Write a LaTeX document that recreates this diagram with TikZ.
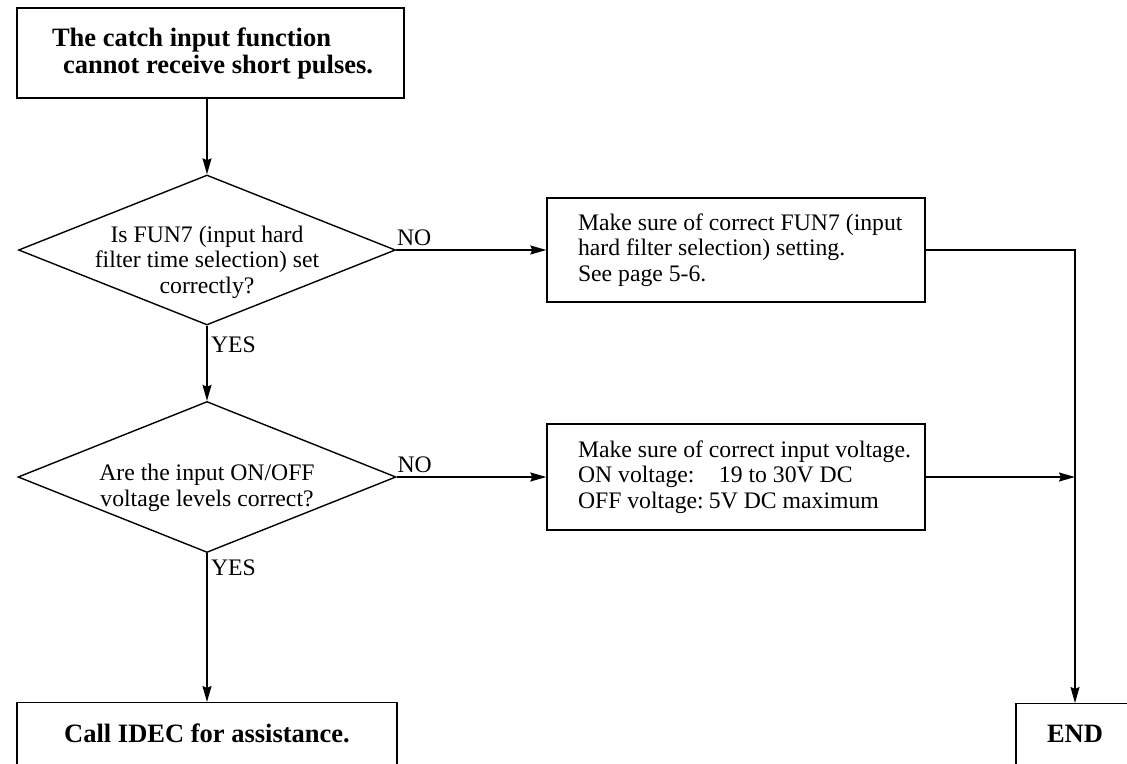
\documentclass[tikz,border=0pt]{standalone}
\usepackage{fontspec}
\setmainfont{Liberation Serif}
\usetikzlibrary{shapes.geometric,arrows.meta}
\newcommand\mgn{\hspace*{31pt}}
\begin{document}
\begin{tikzpicture}[x=1pt,y=-1pt,
  nf/.style={font=\fontsize{23.7}{25.5}\selectfont},
  bf/.style={font=\fontsize{26.5}{27}\selectfont\bfseries},
  ln/.style={line width=1.4pt},
  arr/.style={ln,-{Stealth[length=16pt,width=9pt,inset=2pt]}},
  bbox/.style={draw,ln,bf,inner xsep=0pt},
  procbox/.style={draw,ln,nf,inner xsep=0pt,inner ysep=0pt,text width=378pt,align=flush left},
  decision/.style={draw,ln,diamond,inner sep=0pt,minimum width=377pt,minimum height=150pt},
  lab/.style={nf}
]
\useasboundingbox (0,0) rectangle (1127,763);
\clip (0,0) rectangle (1127,763);

\node[bbox,text width=387pt,align=flush left,minimum height=90pt] (top) at (210.5,53)
  {\hspace*{35pt}The catch input function\\\hspace*{46pt}cannot receive short pulses.};

\node[decision,label={[nf,align=center,yshift=-12pt]center:Is FUN7 (input hard\\filter time selection) set\\correctly?}] (d1) at (207,250) {};

\node[decision,minimum width=378pt,minimum height=151pt,label={[nf,align=center,yshift=-11pt]center:Are the input ON/OFF\\voltage levels correct?}] (d2) at (207,477) {};

\node[procbox,minimum height=104pt] (b1) at (736,250)
  {\mgn Make sure of correct FUN7 (input\\\mgn hard filter selection) setting.\\\mgn See page 5-6.};

\node[procbox,minimum height=106pt] (b2) at (736,477)
  {\mgn Make sure of correct input voltage.\\\mgn \makebox[141pt][l]{ON voltage:}19 to 30V DC\\\mgn \makebox[131pt][l]{OFF voltage:}5V DC maximum};

\node[bbox,anchor=north,minimum width=380pt,inner ysep=0pt,text height=40pt,text depth=60pt] (call) at (207,702) {Call IDEC for assistance.};

\node[bbox,anchor=north,minimum width=118pt,inner ysep=0pt,text height=39pt,text depth=60pt] (end) at (1075,703) {END};

\coordinate (j2) at (end.north |- b2.east);

\draw[arr] (top.south -| d1.north) -- (d1.north);
\draw[arr] (d1.south) -- node[lab,anchor=west,pos=0.26] {YES} (d2.north);
\draw[arr] (d2.south) -- node[lab,anchor=west,pos=0.1] {YES} (call.north);
\draw[arr] (d1.east) -- node[lab,anchor=south,pos=0.12] {NO} (b1.west);
\draw[arr] (d2.east) -- node[lab,anchor=south,pos=0.12] {NO} (b2.west);
\draw[arr] (b1.east) -| (end.north);
\draw[arr] (b2.east) -- (j2);
\end{tikzpicture}
\end{document}
